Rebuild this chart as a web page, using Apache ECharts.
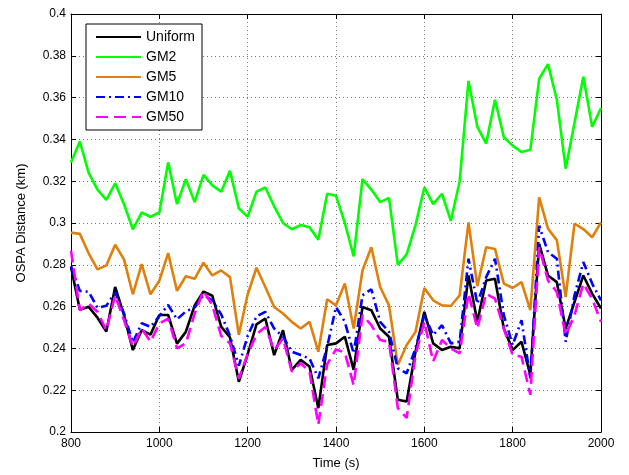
<!DOCTYPE html>
<html>
<head>
<meta charset="utf-8">
<script src="https://cdn.jsdelivr.net/npm/echarts@6/dist/echarts.min.js"></script>
<style>html,body{margin:0;padding:0;background:#fff;}#c{width:629px;height:475px;}</style>
</head>
<body>
<div id="c"></div>
<script>
const times = [800,820,840,860,880,900,920,940,960,980,1000,1020,1040,1060,1080,1100,1120,1140,1160,1180,1200,1220,1240,1260,1280,1300,1320,1340,1360,1380,1400,1420,1440,1460,1480,1500,1520,1540,1560,1580,1600,1620,1640,1660,1680,1700,1720,1740,1760,1780,1800,1820,1840,1860,1880,1900,1920,1940,1960,1980,2000];

const uniform = [0.2789,0.2585,0.2599,0.2547,0.2481,0.2694,0.2559,0.2392,0.2487,0.2466,0.2560,0.2560,0.2423,0.2479,0.2606,0.2672,0.2652,0.2504,0.2452,0.2240,0.2372,0.2515,0.2543,0.2368,0.2487,0.2297,0.2345,0.2313,0.2114,0.2416,0.2424,0.2456,0.2297,0.2598,0.2583,0.2495,0.2456,0.2154,0.2146,0.2384,0.2575,0.2424,0.2392,0.2408,0.2400,0.2749,0.2527,0.2725,0.2733,0.2495,0.2392,0.2432,0.2273,0.2900,0.2749,0.2717,0.2495,0.2622,0.2749,0.2662,0.2591];

const gm2 = [0.329,0.339,0.324,0.316,0.311,0.319,0.309,0.297,0.305,0.303,0.305,0.329,0.309,0.321,0.310,0.323,0.318,0.315,0.325,0.307,0.303,0.315,0.317,0.308,0.300,0.297,0.299,0.298,0.292,0.314,0.313,0.300,0.284,0.321,0.316,0.310,0.312,0.280,0.285,0.299,0.317,0.309,0.314,0.301,0.320,0.368,0.346,0.338,0.359,0.341,0.337,0.334,0.335,0.369,0.376,0.359,0.326,0.348,0.370,0.346,0.355];

const gm5 = [0.2954,0.2948,0.2855,0.2778,0.2797,0.2896,0.2826,0.2659,0.2803,0.2659,0.2724,0.2856,0.2675,0.2745,0.2733,0.2810,0.2749,0.2773,0.2741,0.2465,0.2658,0.2786,0.2694,0.2598,0.2567,0.2527,0.2495,0.2527,0.2384,0.2635,0.2606,0.2710,0.2495,0.2773,0.2884,0.2694,0.2606,0.2321,0.2416,0.2479,0.2689,0.2630,0.2606,0.2603,0.2654,0.3003,0.2698,0.2884,0.2876,0.2710,0.2689,0.2717,0.2583,0.3123,0.2973,0.2918,0.2646,0.2997,0.2971,0.2932,0.3003];

const gm10 = [0.2793,0.2675,0.2671,0.2594,0.2604,0.2668,0.2567,0.2428,0.2520,0.2503,0.2555,0.2608,0.2539,0.2577,0.2596,0.2654,0.2630,0.2563,0.2460,0.2317,0.2460,0.2553,0.2575,0.2495,0.2456,0.2384,0.2368,0.2352,0.2257,0.2408,0.2598,0.2527,0.2376,0.2654,0.2683,0.2527,0.2479,0.2305,0.2281,0.2400,0.2559,0.2464,0.2511,0.2424,0.2432,0.2829,0.2614,0.2741,0.2829,0.2559,0.2416,0.2535,0.2257,0.2987,0.2861,0.2829,0.2432,0.2654,0.2813,0.2710,0.2630];

const gm50 = [0.2868,0.2583,0.2614,0.2575,0.2487,0.2654,0.2535,0.2408,0.2495,0.2432,0.2519,0.2543,0.2400,0.2424,0.2567,0.2675,0.2606,0.2460,0.2424,0.2255,0.2372,0.2467,0.2503,0.2392,0.2448,0.2289,0.2329,0.2289,0.2035,0.2325,0.2395,0.2380,0.2224,0.2559,0.2511,0.2440,0.2432,0.2114,0.2067,0.2368,0.2527,0.2337,0.2440,0.2400,0.2376,0.2662,0.2495,0.2662,0.2638,0.2495,0.2368,0.2360,0.2178,0.2884,0.2725,0.2670,0.2464,0.2559,0.2710,0.2638,0.2527];

const seriesNames = ['Uniform','GM2','GM5','GM10','GM50'];
const xTicks = [800,1000,1200,1400,1600,1800,2000];
const yTicks = [0.2,0.22,0.24,0.26,0.28,0.3,0.32,0.34,0.36,0.38,0.4];

const FONT = 'Liberation Sans';
const chart = echarts.init(document.getElementById('c'), null, {renderer:'canvas'});

function pairs(arr){ return times.map((t,i)=>[t, arr[i]]); }

const styles = [
  {color:'#000000', type:'solid'},
  {color:'#00ff00', type:'solid'},
  {color:'#e07f0c', type:'solid'},
  {color:'#0000ff', type:[9,4,2,4]},
  {color:'#ff00ff', type:[12,6]}
];
const dataSets = [uniform, gm2, gm5, gm10, gm50];

const series = seriesNames.map((n,i)=>({
  name:n, type:'line', data:pairs(dataSets[i]), symbol:'none', showSymbol:false,
  lineStyle:{color:styles[i].color, width:2.6, type:styles[i].type},
  itemStyle:{color:styles[i].color},
  animation:false, z: 2+i
}));

const axisCommon = {
  axisLine:{show:true, onZero:false, lineStyle:{color:'#000', width:1}},
  axisTick:{show:true, inside:true, length:5, lineStyle:{color:'#000'}},
};

chart.setOption({
  animation:false,
  backgroundColor:'#fff',
  grid:{left:71, right:28, top:14, bottom:43, containLabel:false},
  legend:{
    data:seriesNames, orient:'vertical', left:86, top:24,
    itemWidth:45, itemHeight:14, itemGap:6,
    padding:[6,7,6,9],
    backgroundColor:'#fff', borderColor:'#000', borderWidth:1,
    itemStyle:{opacity:0},
    textStyle:{fontFamily:FONT, fontSize:14, color:'#000'},
    selectedMode:false
  },
  xAxis:[{
    type:'value', min:xTicks[0], max:xTicks[xTicks.length-1], interval:200, position:'bottom',
    ...axisCommon,
    axisLabel:{fontFamily:FONT, fontSize:12, color:'#000', margin:6, formatter:v=>String(v)},
    splitLine:{show:true, lineStyle:{color:'#777', type:[1,3], width:1}},
    name:'Time (s)', nameLocation:'middle', nameGap:25,
    nameTextStyle:{fontFamily:FONT, fontSize:13, color:'#000'}
  },{
    type:'value', min:800, max:2000, interval:200, position:'top',
    ...axisCommon, axisLabel:{show:false}, splitLine:{show:false}
  }],
  yAxis:[{
    type:'value', min:yTicks[0], max:yTicks[yTicks.length-1], interval:0.02, position:'left',
    ...axisCommon,
    axisLabel:{fontFamily:FONT, fontSize:12, color:'#000', margin:5,
      formatter:v=>String(+v.toFixed(2))},
    splitLine:{show:true, lineStyle:{color:'#777', type:[1,3], width:1}},
    name:'OSPA Distance (km)', nameLocation:'middle', nameGap:43,
    nameTextStyle:{fontFamily:FONT, fontSize:13, color:'#000'}
  },{
    type:'value', min:0.2, max:0.4, interval:0.02, position:'right',
    ...axisCommon, axisLabel:{show:false}, splitLine:{show:false}
  }],
  series: series
});
</script>
</body>
</html>
